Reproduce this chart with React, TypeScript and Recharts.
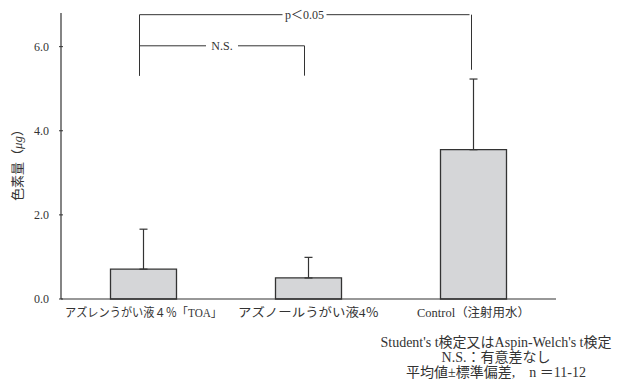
import { BarChart, Bar, XAxis, YAxis, ErrorBar, ReferenceLine } from 'recharts'

const categories = ['アズレンうがい液４％「TOA」', 'アズノールうがい液4％', 'Control（注射用水）']
const means = [0.71, 0.5, 3.55]
const sds = [0.95, 0.49, 1.68]
const yTicks = [0, 2, 4, 6]

// brackets: [from category, to category, line level, left foot, right foot, label]
const brackets = [
  { from: 0, to: 2, level: 6.76, footL: 5.31, footR: 5.45, label: 'p＜0.05' },
  { from: 0, to: 1, level: 6.02, footL: 5.31, footR: 5.31, label: 'N.S.' },
]
const footnotes = ["Student's t検定又はAspin-Welch's t検定", 'N.S.：有意差なし', '平均値±標準偏差,　n ＝11-12']

const data = categories.map((name, i) => ({ name, mean: means[i], err: [0, sds[i]] }))

// rendered widths of the category labels (the reference type is condensed)
const labelWidths = [157, 141, 113]

const FONT = '"Liberation Serif", "Noto Sans CJK JP", serif'
const INK = '#333'

const YTick = (props: any) => {
  const { x, y, payload } = props
  return (
    <g>
      <line x1={x + 8} y1={y} x2={x + 12} y2={y} stroke={INK} strokeWidth={1} />
      <text x={x - 2} y={y} dy={4} textAnchor="end" fontSize={12} fill={INK} fontFamily={FONT}>
        {payload.value.toFixed(1)}
      </text>
    </g>
  )
}

const XTick = (props: any) => {
  const { x, y, payload, index } = props
  return (
    <text
      x={x}
      y={y}
      dy={10}
      textAnchor="middle"
      fontSize={12}
      fill={INK}
      fontFamily={FONT}
      textLength={labelWidths[index]}
      lengthAdjust="spacingAndGlyphs"
    >
      {payload.value}
    </text>
  )
}

const shifted = (dx: number) => (p: any) => (
  <line x1={p.x1 + dx} y1={p.y1} x2={p.x2 + dx} y2={p.y2} stroke={INK} strokeWidth={1} />
)

const BracketLabel = (text: string) => (p: any) => {
  const vb = p.viewBox
  const cx = vb.x + vb.width / 2 - 4
  const w = text.length * 6 + 8
  return (
    <g>
      <rect x={cx - w / 2} y={vb.y - 6} width={w} height={12} fill="#fff" />
      <text x={cx} y={vb.y} dy={4} textAnchor="middle" fontSize={12} fill={INK} fontFamily={FONT}>
        {text}
      </text>
    </g>
  )
}

export default function App() {
  return (
    <div style={{ position: 'relative', width: 625, height: 385, background: '#fff' }}>
      <style>{`body{margin:0}`}</style>
      <BarChart
        width={625}
        height={385}
        data={data}
        margin={{ top: 13, right: 69, left: 0, bottom: 56 }}
        barCategoryGap="30%"
      >
        <XAxis
          dataKey="name"
          height={30}
          interval={0}
          tick={<XTick />}
          tickLine={false}
          axisLine={{ stroke: INK, strokeWidth: 1.2 }}
        />
        <YAxis
          width={61}
          domain={[0, 6.8]}
          ticks={yTicks}
          tick={<YTick />}
          tickLine={false}
          tickSize={8}
          axisLine={{ stroke: INK, strokeWidth: 1.2 }}
          label={{
            content: () => (
              <text
                x={22}
                y={162}
                transform="rotate(-90 22 162)"
                textAnchor="middle"
                fontSize={13}
                fill={INK}
                fontFamily={FONT}
              >
                色素量（<tspan fontStyle="italic">μg</tspan>）
              </text>
            ),
          }}
        />
        <Bar dataKey="mean" fill="#d5d6d8" stroke={INK} strokeWidth={1.3} isAnimationActive={false}>
          <ErrorBar dataKey="err" width={4} stroke={INK} strokeWidth={1.2} direction="y" />
        </Bar>
        {brackets.map((b, i) => (
          <ReferenceLine
            key={'h' + i}
            segment={[
              { x: categories[b.from], y: b.level },
              { x: categories[b.to], y: b.level },
            ]}
            shape={shifted(-4)}
            label={{ content: BracketLabel(b.label) }}
          />
        ))}
        {brackets.map((b, i) => (
          <ReferenceLine
            key={'l' + i}
            segment={[
              { x: categories[b.from], y: b.level },
              { x: categories[b.from], y: b.footL },
            ]}
            shape={shifted(-4)}
          />
        ))}
        {brackets.map((b, i) => (
          <ReferenceLine
            key={'r' + i}
            segment={[
              { x: categories[b.to], y: b.level },
              { x: categories[b.to], y: b.footR },
            ]}
            shape={shifted(b.to === 2 ? -2 : -4)}
          />
        ))}
      </BarChart>
      <div
        style={{
          position: 'absolute',
          left: 366,
          top: 335,
          width: 260,
          textAlign: 'center',
          fontFamily: FONT,
          fontSize: 14,
          lineHeight: '15px',
          color: INK,
        }}
      >
        {footnotes.map((t) => (
          <div key={t} style={{ whiteSpace: 'nowrap' }}>{t}</div>
        ))}
      </div>
    </div>
  )
}
